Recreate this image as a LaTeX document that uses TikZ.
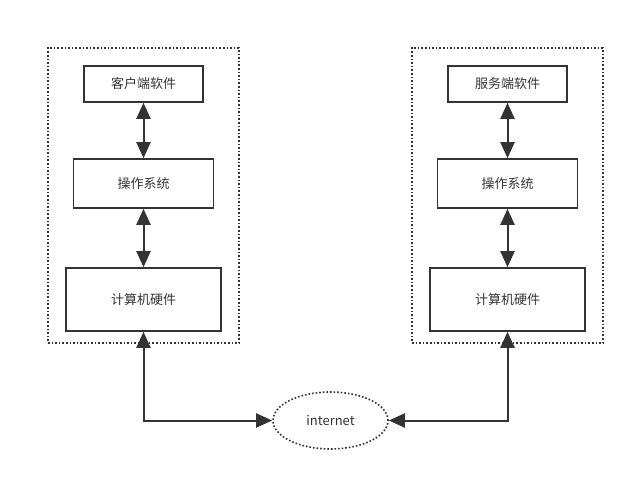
\documentclass[tikz,border=0pt]{standalone}
\usepackage{fontspec}
\setmainfont{Noto Sans CJK SC}
\usetikzlibrary{arrows.meta,shapes.geometric}

\definecolor{linegray}{HTML}{333333}

\begin{document}
\begin{tikzpicture}[x=1pt,y=-1pt,
    font=\fontsize{13}{15}\selectfont,text=linegray,
    layer/.style={draw=linegray,rectangle,line width=1.6pt,inner sep=0pt},
    hostbox/.style={draw=linegray,rectangle,dotted,line width=1.6pt,inner sep=0pt},
    tip/.tip={Triangle[length=16pt,width=14pt]},
    link/.style={draw=linegray,line width=2pt,tip-tip}]
    \useasboundingbox (0,0) rectangle (635,481);

    % Hosts
    \node[hostbox, minimum width=191pt, minimum height=295pt] (clienthost) at (143.5,195.5) {};
    \node[hostbox, minimum width=191pt, minimum height=295pt] (serverhost) at (507.5,195.5) {};

    % Client stack
    \node[layer, minimum width=119pt, minimum height=36pt] (clientsw) at (143.5,84) {客户端软件};
    \node[layer, minimum width=140pt, minimum height=49pt] (clientos) at (143.5,183.5) {操作系统};
    \node[layer, minimum width=155pt, minimum height=63pt] (clienthw) at (143.5,299.5) {计算机硬件};

    % Server stack
    \node[layer, minimum width=119pt, minimum height=36pt] (serversw) at (507.5,84) {服务端软件};
    \node[layer, minimum width=140pt, minimum height=49pt] (serveros) at (507.5,183.5) {操作系统};
    \node[layer, minimum width=155pt, minimum height=63pt] (serverhw) at (507.5,299.5) {计算机硬件};

    % Network
    \node[ellipse, draw=linegray, dotted, line width=1.6pt, minimum width=115pt, minimum height=57pt, inner sep=0pt] (net) at (330.5,420.5) {internet};

    % Links
    \draw[link] (clientsw) -- (clientos);
    \draw[link] (clientos) -- (clienthw);
    \draw[link] (serversw) -- (serveros);
    \draw[link] (serveros) -- (serverhw);
    \draw[link] (clienthw.south) |- (net.west);
    \draw[link] (serverhw.south) |- (net.east);
\end{tikzpicture}
\end{document}
